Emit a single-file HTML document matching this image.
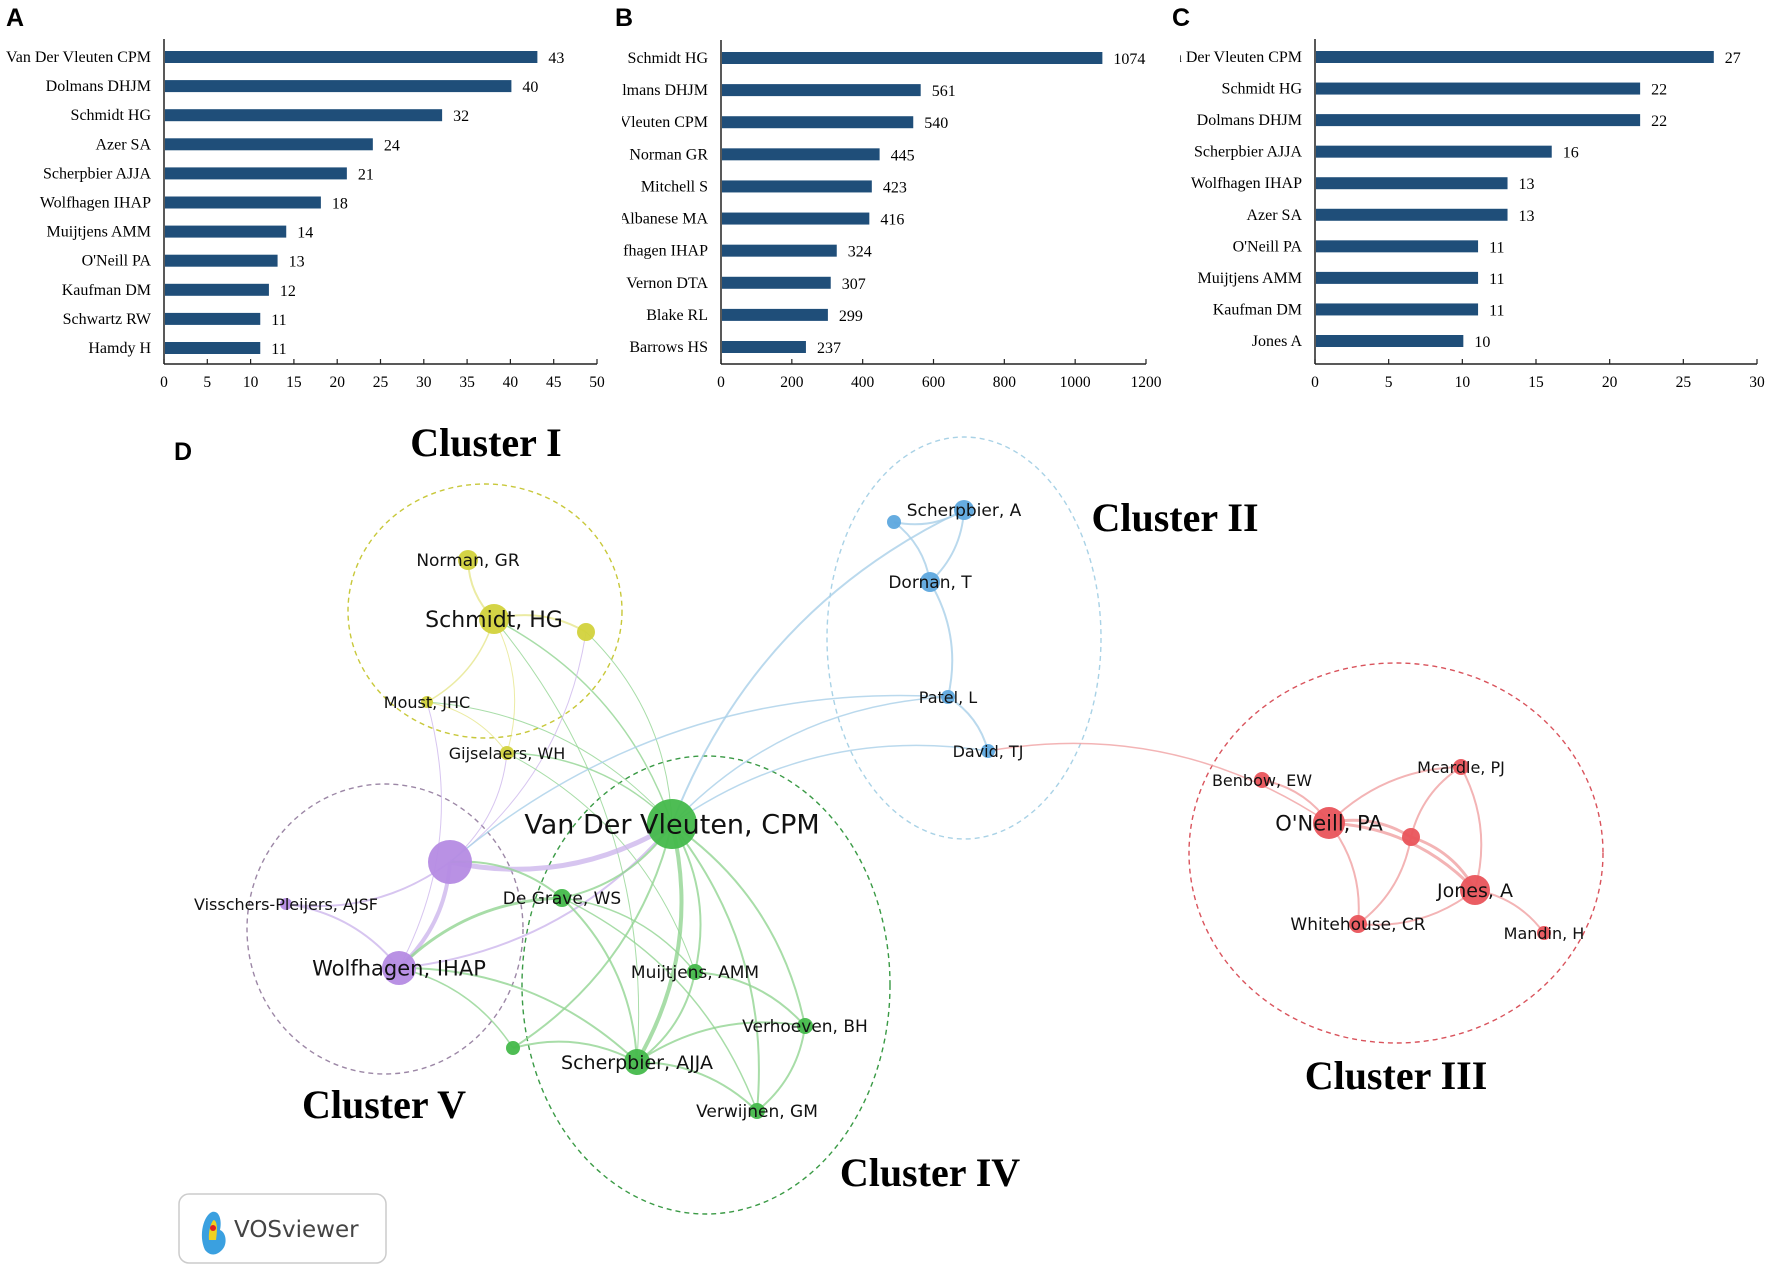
<!DOCTYPE html>
<html><head><meta charset="utf-8">
<style>
html,body{margin:0;padding:0;background:#fff;}
svg{display:block;}
.ser{font-family:"Liberation Serif",serif;}
.sans{font-family:"DejaVu Sans","Liberation Sans",sans-serif;}
</style></head>
<body>
<svg id="fig" width="1772" height="1271" viewBox="0 0 1772 1271" xmlns="http://www.w3.org/2000/svg">
<g id="charts"></g>
<g id="net"></g>
</svg>
<script>
// ---- Bar chart data ----
const catsA = ["Van Der Vleuten CPM","Dolmans DHJM","Schmidt HG","Azer SA","Scherpbier AJJA","Wolfhagen IHAP","Muijtjens AMM","O'Neill PA","Kaufman DM","Schwartz RW","Hamdy H"];
const valsA = [43,40,32,24,21,18,14,13,12,11,11];
const ticksA = [0,5,10,15,20,25,30,35,40,45,50];
const catsB = ["Schmidt HG","lmans DHJM","Vleuten CPM","Norman GR","Mitchell S","Albanese MA","fhagen IHAP","Vernon DTA","Blake RL","Barrows HS"];
const valsB = [1074,561,540,445,423,416,324,307,299,237];
const ticksB = [0,200,400,600,800,1000,1200];
const catsC = ["n Der Vleuten CPM","Schmidt HG","Dolmans DHJM","Scherpbier AJJA","Wolfhagen IHAP","Azer SA","O'Neill PA","Muijtjens AMM","Kaufman DM","Jones A"];
const valsC = [27,22,22,16,13,13,11,11,11,10];
const ticksC = [0,5,10,15,20,25,30];

// ---- Network data ----
const nodeNames = ["Norman, GR","Schmidt, HG","","Moust, JHC","Gijselaers, WH","Van Der Vleuten, CPM","","Visschers-Pleijers, AJSF","Wolfhagen, IHAP","De Grave, WS","Muijtjens, AMM","Verhoeven, BH","","Scherpbier, AJJA","Verwijnen, GM","Scherpbier, A","","Dornan, T","Patel, L","David, TJ","Benbow, EW","O'Neill, PA","Mcardle, PJ","","Jones, A","Whitehouse, CR","Mandin, H"];
const nodeCluster = [0,0,0,0,0,3,4,4,4,3,3,3,3,3,3,1,1,1,1,1,2,2,2,2,2,2,2];
const nodeWeight = [10,15,9,6,7,25,22,6,17,9,8,8,7,13,8,10,7,10,7,7,8,16,8,9,15,9,7];
const nodeX = [468,494,586,427,507,672,450,286,399,562,695,805,513,637,757,964,894,930,948,988,1262,1329,1461,1411,1475,1358,1544];
const nodeY = [560,619,632,702,753,824,862,904,968,898,972,1026,1048,1062,1111,510,522,582,697,751,780,823,767,837,890,924,933];
const labelSize = [17,22,0,16,16,27,0,16,21,17,17,17,0,19,17,17,0,17,16,16,16,21,16,0,19,17,16];
const edges = [[1,0,2],[1,2,2],[1,3,1.5],[1,4,1],[1,5,1.5],[1,13,1],[3,4,1],[3,5,1],[3,8,1],[2,5,1],[2,6,1],[4,5,1.5],[4,6,1],[4,10,1],
[5,15,2],[5,6,5],[5,8,2],[5,9,2],[5,10,2],[5,11,2],[5,13,4],[5,14,2],[5,12,2],[5,18,1.5],[5,19,1.5],
[6,7,2],[6,8,4],[6,9,2],[6,18,1.5],[7,8,2],[8,9,3],[8,12,1.5],[8,13,2],[9,10,1.5],[9,13,2],[9,14,1.5],[10,13,2],[10,11,2],[13,11,2],[13,14,2],[11,14,2],[12,13,2],
[15,16,2],[15,17,2],[16,17,2],[17,18,2],[18,19,2],[19,21,1.5],
[20,21,2],[21,23,3],[21,22,2],[21,24,3],[21,25,2],[23,22,2],[23,24,3],[23,25,2],[22,24,2],[24,26,2],[24,25,2]];
const clusterColor = ["#d2d23c","#5ea8de","#e9545b","#45b94b","#b58be3"];
const edgeColor = ["#e6e68c","#a9cfe9","#f0a1a3","#92d592","#cdb6ec"];
const NS="http://www.w3.org/2000/svg";

function el(tag, attrs, parent){
  const e=document.createElementNS(NS,tag);
  for(const k in attrs) e.setAttribute(k,attrs[k]);
  parent.appendChild(e); return e;
}

// ---- Bar charts ----
function barChart(cfg){
  const g=el("g",{},document.getElementById("charts"));
  
  
  const x = v => cfg.x0 + (v - cfg.ticks[0])/(cfg.ticks[cfg.ticks.length-1]-cfg.ticks[0])*(cfg.x1-cfg.x0);
  const n = cfg.cats.length;
  const y = i => cfg.yFirst + i*(cfg.yLast-cfg.yFirst)/(n-1);
  const lt = el("text",{x:cfg.lx,y:cfg.ly,"font-family":"Liberation Sans, sans-serif","font-weight":"bold","font-size":25},g);
  lt.textContent=cfg.letter;
  
  
  const clip = el("clipPath",{id:"clip"+cfg.letter},g);
  el("rect",{x:cfg.clipX,y:0,width:2000,height:500},clip);
  for(let i=0;i<n;i++){
    const cy=y(i);
    const r=el("rect",{x:x(0)+1,y:cy-6,width:x(cfg.vals[i])-x(0),height:12,fill:"#1f4e79"},g);
    
    
    const t=el("text",{x:x(0)-13,y:cy+5,"text-anchor":"end","font-size":16,class:"ser","clip-path":"url(#clip"+cfg.letter+")"},g);
    t.textContent=cfg.cats[i];
    
    
    const v=el("text",{x:x(cfg.vals[i])+12,y:cy+6,"font-size":16,class:"ser"},g);
    v.textContent=cfg.vals[i];
    
    
  }
  el("line",{x1:x(0),y1:cfg.yFirst-18,x2:x(0),y2:cfg.axisY,stroke:"#222","stroke-width":1.5},g);
  const ax=el("line",{x1:x(0),y1:cfg.axisY,x2:cfg.x1,y2:cfg.axisY,stroke:"#222","stroke-width":1.5},g);
  
  
  cfg.ticks.forEach(tv=>{
    el("line",{x1:x(tv),y1:cfg.axisY,x2:x(tv),y2:cfg.axisY-5,stroke:"#222","stroke-width":1.2},g);
    const tt=el("text",{x:x(tv),y:cfg.axisY+23,"text-anchor":"middle","font-size":15.5,class:"ser"},g);
    tt.textContent=tv;
    
    
  });
}
barChart({name:"chart-a",letter:"A",lx:6,ly:26,cats:catsA,vals:valsA,ticks:ticksA,x0:164,x1:597,yFirst:57,yLast:348,axisY:364,clipX:0});
barChart({name:"chart-b",letter:"B",lx:615,ly:26,cats:catsB,vals:valsB,ticks:ticksB,x0:721,x1:1146,yFirst:58,yLast:347,axisY:364,clipX:622});
barChart({name:"chart-c",letter:"C",lx:1172,ly:26,cats:catsC,vals:valsC,ticks:ticksC,x0:1315,x1:1757,yFirst:57,yLast:341,axisY:364,clipX:1180});

// ---- Network ----
const net=document.getElementById("net");
const circles=[[485,611,137,127,"#c8c83a"],[964,638,137,201,"#a9d2e6"],[1396,853,207,190,"#d9535c"],[706,985,184,229,"#3a9a45"],[385,929,138,145,"#9c87a6"]];
circles.forEach(c=>{
  const e=el("ellipse",{cx:c[0],cy:c[1],rx:c[2],ry:c[3],fill:"none",stroke:c[4],"stroke-width":1.4,"stroke-dasharray":"5,4"},net);
  
  
});
const eg=el("g",{},net);


edges.forEach(ed=>{
  const a=ed[0],b=ed[1];
  const x1=nodeX[a],y1=nodeY[a],x2=nodeX[b],y2=nodeY[b];
  const mx=(x1+x2)/2,my=(y1+y2)/2,dx=x2-x1,dy=y2-y1;
  const cx=mx+dy*0.2,cy=my-dx*0.2;
  const col = nodeCluster[a]===nodeCluster[b]?edgeColor[nodeCluster[a]]:edgeColor[nodeCluster[b]];
  const p=el("path",{d:`M${x1},${y1} Q${cx},${cy} ${x2},${y2}`,fill:"none",stroke:col,"stroke-width":ed[2],opacity:0.8},eg);
  
  
});
for(let i=0;i<nodeX.length;i++){
  const c=el("circle",{cx:nodeX[i],cy:nodeY[i],r:nodeWeight[i],fill:clusterColor[nodeCluster[i]],opacity:0.95},net);
  
  
}
for(let i=0;i<nodeX.length;i++){
  if(!nodeNames[i]) continue;
  const t=el("text",{x:nodeX[i],y:nodeY[i]+labelSize[i]*0.36,"text-anchor":"middle","font-size":labelSize[i],fill:"#111",class:"sans"},net);
  t.textContent=nodeNames[i];
  
  
}
const titles=[["Cluster I",486,456],["Cluster II",1175,531],["Cluster III",1396,1089],["Cluster IV",930,1186],["Cluster V",384,1118]];
titles.forEach(t=>{
  const e=el("text",{x:t[1],y:t[2],"text-anchor":"middle","font-size":40,"font-weight":"bold",class:"ser"},net);
  e.textContent=t[0];
  
  
});
const d=el("text",{x:174,y:460,"font-size":25,"font-weight":"bold","font-family":"Liberation Sans, sans-serif"},net);
d.textContent="D";


// VOSviewer badge
const bg=el("g",{},net);


el("rect",{x:179,y:1194,width:207,height:69,rx:10,fill:"#fff",stroke:"#ccc","stroke-width":1.5},bg);
el("path",{d:"M205,1250 C198,1235 204,1215 212,1212 C220,1210 222,1222 220,1230 C226,1232 228,1244 222,1250 C216,1256 210,1256 205,1250Z",fill:"#3aa0e0"},bg);
el("path",{d:"M209,1240 C208,1230 212,1220 214,1220 C218,1222 217,1232 216,1240Z",fill:"#f0d020"},bg);
el("circle",{cx:213,cy:1228,r:3,fill:"#e02020"},bg);
const vt=el("text",{x:234,y:1237,"font-size":23,fill:"#444",class:"sans"},bg);
vt.textContent="VOSviewer";
</script>
</body></html>
